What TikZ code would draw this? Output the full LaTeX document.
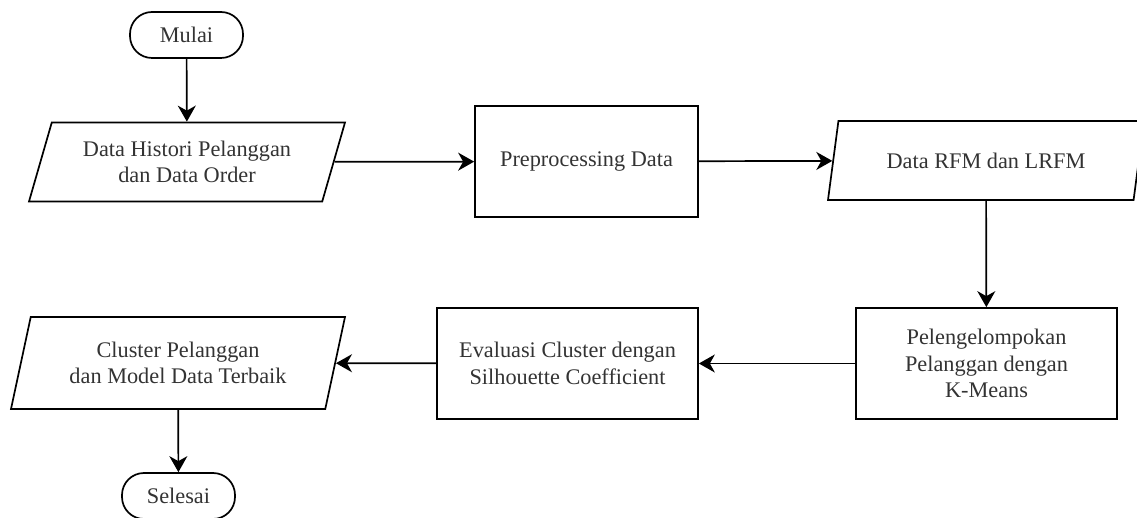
\documentclass[tikz,border=0pt]{standalone}
\usepackage{fontspec}
\setmainfont{Liberation Serif}
\usetikzlibrary{arrows.meta,shapes.geometric,positioning,calc}

\begin{document}
\begin{tikzpicture}[x=1pt, y=-1pt, every node/.style={font=\fontsize{22.3}{26.5}\selectfont, text=black!80}]
    \tikzset{terminal/.style={draw, rectangle, rounded corners=22pt,
        minimum width=113pt, minimum height=46pt, line width=1.7pt},
      process/.style={draw, rectangle, align=center,
        minimum height=111pt, line width=1.7pt},
      data/.style={draw, trapezium, trapezium left angle=65,
        trapezium right angle=115, trapezium stretches body, align=center,
        minimum width=316pt, minimum height=79pt, line width=1.7pt},
      flow/.style={line width=1.7pt, -{Stealth[length=16pt, width=18pt, inset=5pt]}}}
    \useasboundingbox (0,0) rectangle (1137,518);
    \node[terminal] (mulai) at (186.5,35) {Mulai};
    \node[data] (histori) at (187,162) {Data Histori Pelanggan\\dan Data Order};
    \node[process, minimum width=223pt] (prepro) at (586.5,161.5) {Preprocessing Data};
    \node[data] (rfm) at (986,160.5) {Data RFM dan LRFM};
    \node[process, minimum width=261pt] (kmeans) at (986.5,363.5) {Pelengelompokan\\Pelanggan dengan\\K-Means};
    \node[process, minimum width=261pt] (evaluasi) at (567.5,363.5) {Evaluasi Cluster dengan\\Silhouette Coefficient};
    \node[data, minimum width=334pt, minimum height=92pt, trapezium left angle=68,
      trapezium right angle=112] (cluster) at (178,363) {Cluster Pelanggan\\dan Model Data Terbaik};
    \node[terminal] (selesai) at (178.5,496) {Selesai};
    \draw[flow] (mulai) -- (histori);
    \draw[flow] (histori) -- (prepro);
    \draw[flow] (prepro) -- (rfm);
    \draw[flow] (rfm) -- (kmeans);
    \draw[flow] (kmeans) -- (evaluasi);
    \draw[flow] (evaluasi) -- (cluster);
    \draw[flow] (cluster) -- (selesai);
  \end{tikzpicture}
\end{document}
